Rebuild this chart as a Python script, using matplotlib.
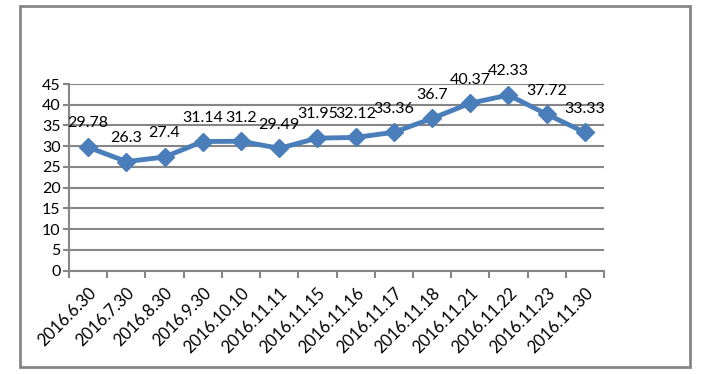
import numpy as np
import matplotlib.pyplot as plt
from matplotlib.patches import Rectangle

dates = ["2016.6.30", "2016.7.30", "2016.8.30", "2016.9.30", "2016.10.10",
         "2016.11.11", "2016.11.15", "2016.11.16", "2016.11.17", "2016.11.18",
         "2016.11.21", "2016.11.22", "2016.11.23", "2016.11.30"]
values = [29.78, 26.3, 27.4, 31.14, 31.2, 29.49, 31.95, 32.12, 33.36, 36.7,
          40.37, 42.33, 37.72, 33.33]
y_ticks = [0, 5, 10, 15, 20, 25, 30, 35, 40, 45]

LINE = "#4a7ebb"
GRID = "#868686"

plt.rcParams['font.family'] = ['Lato', 'DejaVu Sans']

fig = plt.figure(figsize=(7.13, 3.74), dpi=100)
ax = fig.add_axes([69 / 713, 1 - 270.7 / 374, (604 - 69) / 713, (270.7 - 84) / 374])

# outer chart border
fig.patches.append(Rectangle((20 / 713, 1 - 367 / 374), 670 / 713, 361 / 374,
                             transform=fig.transFigure, fill=False,
                             edgecolor=GRID, lw=2))

x = np.arange(len(values))
ax.plot(x, values, color=LINE, lw=3.5, marker="D", ms=9, zorder=3)

for xi, v in zip(x, values):
    ax.annotate(f"{v:g}", (xi, v), xytext=(0, 12), textcoords="offset points",
                ha="center", va="bottom", fontsize=11.5)

ax.set_xlim(-0.5, len(values) - 0.5)
ax.set_ylim(0, 45)
ax.set_yticks(y_ticks)
ax.tick_params(axis="y", length=4, color=GRID, width=1.5, labelsize=11.5, pad=2)
ax.yaxis.grid(True, color=GRID, lw=1.5)
ax.set_axisbelow(True)

# category boundaries carry the tick marks
ax.set_xticks(np.arange(len(values) + 1) - 0.5)
ax.set_xticklabels([])
ax.tick_params(axis="x", length=5, color=GRID, width=1.5)
ax.set_xticks(x, minor=True)
ax.set_xticklabels(dates, minor=True, rotation=45, ha="right",
                   rotation_mode="anchor", fontsize=12)
ax.tick_params(axis="x", which="minor", length=0, pad=10)

for s in ["top", "right"]:
    ax.spines[s].set_visible(False)
for s in ["left", "bottom"]:
    ax.spines[s].set_color(GRID)
    ax.spines[s].set_linewidth(1.5)

fig.savefig("out.png", dpi=100)
